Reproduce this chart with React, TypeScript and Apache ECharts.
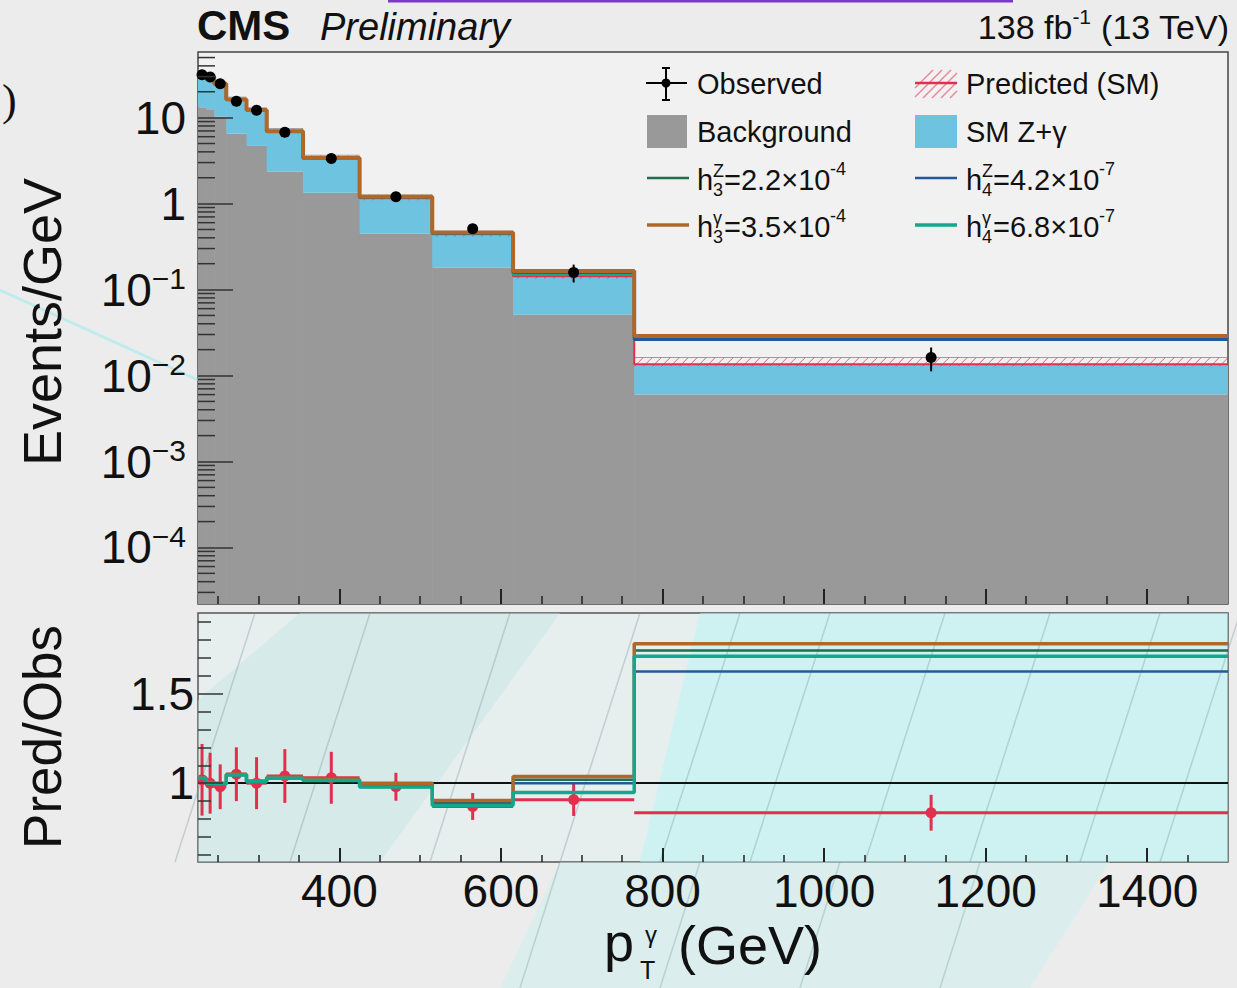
import React, { useEffect, useRef } from 'react';
import * as echarts from 'echarts';

// ---------------- data ----------------
const binEdges = [225, 235, 245, 260, 285, 310, 355, 425, 515, 615, 765, 1500];
const observed = [31.6, 29.7, 24.8, 15.5, 12.2, 6.75, 3.34, 1.2, 0.51, 0.158, 0.0162];
const observedErr = [1.0, 1.0, 0.9, 0.7, 0.6, 0.4, 0.2, 0.07, 0.04, 0.037, 0.005];
const background = [13.2, 12.5, 10.3, 6.5, 4.7, 2.36, 1.34, 0.448, 0.18, 0.051, 0.006];
const predictedSM = [32.2, 29.7, 24.3, 16.3, 12.2, 7.0, 3.44, 1.18, 0.444, 0.143, 0.0135];
const predictedHi = [34.0, 31.5, 26.0, 17.3, 13.0, 7.45, 3.65, 1.26, 0.475, 0.152, 0.0162];
const predictedLo = [30.2, 27.8, 22.8, 15.3, 11.4, 6.55, 3.22, 1.1, 0.415, 0.134, 0.0128];
const h3Z = [32.4, 29.7, 24.7, 16.2, 12.3, 6.9, 3.39, 1.19, 0.454, 0.161, 0.0282];
const h3G = [32.5, 29.8, 24.8, 16.3, 12.3, 6.95, 3.4, 1.2, 0.46, 0.164, 0.0288];
const h4Z = [32.3, 29.7, 24.7, 16.2, 12.3, 6.92, 3.38, 1.18, 0.451, 0.158, 0.0263];
const h4G = [32.4, 29.7, 24.7, 16.2, 12.3, 6.93, 3.38, 1.17, 0.447, 0.15, 0.0277];

const ratioSM = [1.019, 1.0, 0.98, 1.05, 1.0, 1.04, 1.03, 0.98, 0.87, 0.907, 0.835];
const ratioErr = [0.2, 0.17, 0.125, 0.15, 0.145, 0.15, 0.145, 0.078, 0.075, 0.09, 0.1];
const ratioH3Z = [1.028, 1.003, 0.998, 1.048, 1.01, 1.03, 1.017, 0.99, 0.89, 1.019, 1.74];
const ratioH3G = [1.03, 1.005, 1.0, 1.05, 1.012, 1.032, 1.02, 1.0, 0.904, 1.037, 1.778];
const ratioH4Z = [1.026, 1.0, 0.996, 1.045, 1.008, 1.027, 1.014, 0.985, 0.885, 1.0, 1.624];
const ratioH4G = [1.028, 1.0, 0.996, 1.046, 1.009, 1.028, 1.015, 0.978, 0.876, 0.948, 1.709];

const xMajorTicks = [400, 600, 800, 1000, 1200, 1400];
const xMinorTicks = [250, 300, 350, 450, 500, 550, 650, 700, 750, 850, 900, 950, 1050, 1100, 1150, 1250, 1300, 1350, 1450];
const ratioLabels = [1, 1.5];
const ratioMinorTicks = [0.6, 0.7, 0.8, 0.9, 1.1, 1.2, 1.3, 1.4, 1.6, 1.7, 1.8, 1.9];
const logMinorMantissas = [2, 3, 4, 5, 6, 7, 8, 9];
const logDecades = [-5, -4, -3, -2, -1, 0, 1];

// ---------------- styling constants ----------------
const X_MIN = 225;
const X_MAX = 1500;
const Y_MIN = 2.2e-5;
const Y_MAX = 58;
const R_MIN = 0.56;
const R_MAX = 1.95;
const FONT = '"Liberation Sans", Arial, Helvetica, sans-serif';

const C_BKG = '#999999';
const C_SM = '#6ec4e0';
const C_RED = '#e0304e';
const C_H3Z = '#1f6e4e';
const C_H3G = '#b0682a';
const C_H4Z = '#23599b';
const C_H4G = '#12a88c';

const logMinorTicks: number[] = [];
logDecades.forEach((d) => logMinorMantissas.forEach((m) => {
  const v = m * Math.pow(10, d);
  if (v > Y_MIN && v < Y_MAX) logMinorTicks.push(v);
}));

const binData = (lo: number[] | null, hi: number[]) =>
  hi.map((v, i) => [binEdges[i], binEdges[i + 1], lo ? lo[i] : Y_MIN, v]);

const stepData = (vals: number[]) => binEdges.map((e, i) => [e, vals[Math.min(i, vals.length - 1)]]);

const rectSeries = (lo: number[] | null, hi: number[], color: string, z: number) => ({
  type: 'custom',
  xAxisIndex: 0,
  yAxisIndex: 0,
  silent: true,
  clip: true,
  z,
  data: binData(lo, hi),
  encode: { x: [0, 1], y: [2, 3] },
  renderItem: (_p: any, api: any) => {
    const a = api.coord([api.value(0), api.value(3)]);
    const b = api.coord([api.value(1), api.value(2)]);
    return {
      type: 'rect',
      shape: { x: a[0], y: a[1], width: b[0] - a[0] + 0.6, height: b[1] - a[1] },
      style: { fill: color },
    };
  },
});

const clipSeg = (x1: number, y1: number, x2: number, y2: number, xa: number, xb: number) => {
  const k = (y2 - y1) / (x2 - x1);
  let sx = x1, sy = y1, ex = x2, ey = y2;
  if (sx < xa) { sy = sy + k * (xa - sx); sx = xa; }
  if (ex > xb) { ey = ey - k * (ex - xb); ex = xb; }
  if (ex <= sx) return null;
  return { x1: sx, y1: sy, x2: ex, y2: ey };
};

const hatchSeries = {
  type: 'custom',
  xAxisIndex: 0,
  yAxisIndex: 0,
  silent: true,
  clip: true,
  z: 4,
  data: binData(predictedLo, predictedHi),
  encode: { x: [0, 1], y: [2, 3] },
  renderItem: (_p: any, api: any) => {
    const a = api.coord([api.value(0), api.value(3)]);
    const b = api.coord([api.value(1), api.value(2)]);
    const h = b[1] - a[1];
    const children: any[] = [];
    for (let s = a[0] - h; s < b[0]; s += 9) {
      const seg = clipSeg(s, b[1], s + h, a[1], a[0], b[0]);
      if (seg) children.push({ type: 'line', shape: seg, style: { stroke: 'rgba(224,48,78,0.75)', lineWidth: 1 } });
    }
    children.push({ type: 'line', shape: { x1: a[0], y1: a[1], x2: b[0], y2: a[1] }, style: { stroke: 'rgba(120,120,120,0.7)', lineWidth: 1 } });
    return { type: 'group', children };
  },
};

const stepSeries = (name: string, vals: number[], color: string, width: number, xi: number, yi: number, z: number, extra: any = {}) => ({
  type: 'line',
  name,
  xAxisIndex: xi,
  yAxisIndex: yi,
  step: 'end',
  symbol: 'none',
  showSymbol: false,
  silent: true,
  data: stepData(vals),
  lineStyle: { color, width },
  z,
  ...extra,
});

const observedSeries = {
  type: 'custom',
  xAxisIndex: 0,
  yAxisIndex: 0,
  silent: true,
  z: 12,
  data: observed.map((v, i) => [(binEdges[i] + binEdges[i + 1]) / 2, v, observedErr[i]]),
  encode: { x: 0, y: 1 },
  renderItem: (_p: any, api: any) => {
    const c = api.coord([api.value(0), api.value(1)]);
    const hi = api.coord([api.value(0), api.value(1) + api.value(2)]);
    const lo = api.coord([api.value(0), api.value(1) - api.value(2)]);
    return {
      type: 'group',
      children: [
        { type: 'line', shape: { x1: c[0], y1: hi[1], x2: c[0], y2: lo[1] }, style: { stroke: '#000', lineWidth: 2 } },
        { type: 'circle', shape: { cx: c[0], cy: c[1], r: 5.5 }, style: { fill: '#000' } },
      ],
    };
  },
};

const logMinorTickSeries = {
  type: 'custom',
  xAxisIndex: 0,
  yAxisIndex: 0,
  silent: true,
  z: 13,
  data: logMinorTicks.map((v) => [X_MIN, v]),
  encode: { x: 0, y: 1 },
  renderItem: (_p: any, api: any) => {
    const c = api.coord([api.value(0), api.value(1)]);
    return { type: 'line', shape: { x1: c[0], y1: c[1], x2: c[0] + 17, y2: c[1] }, style: { stroke: '#333', lineWidth: 1.5 } };
  },
};

const ratioSMSeries = {
  type: 'custom',
  xAxisIndex: 2,
  yAxisIndex: 1,
  silent: true,
  clip: true,
  z: 5,
  data: ratioSM.map((v, i) => [binEdges[i], binEdges[i + 1], v, ratioErr[i]]),
  encode: { x: [0, 1], y: 2 },
  renderItem: (_p: any, api: any) => {
    const x0 = api.value(0), x1 = api.value(1), v = api.value(2), e = api.value(3);
    const l = api.coord([x0, v]);
    const r = api.coord([x1, v]);
    const c = api.coord([(x0 + x1) / 2, v]);
    const hi = api.coord([(x0 + x1) / 2, v + e]);
    const lo = api.coord([(x0 + x1) / 2, v - e]);
    return {
      type: 'group',
      children: [
        { type: 'line', shape: { x1: l[0], y1: l[1], x2: r[0], y2: r[1] }, style: { stroke: C_RED, lineWidth: 3 } },
        { type: 'line', shape: { x1: c[0], y1: hi[1], x2: c[0], y2: lo[1] }, style: { stroke: C_RED, lineWidth: 3 } },
        { type: 'circle', shape: { cx: c[0], cy: c[1], r: 5.5 }, style: { fill: C_RED } },
      ],
    };
  },
};

// ---------------- text helpers ----------------
const txt = (text: string, x: number, y: number, size: number, extra: any = {}, styleExtra: any = {}) => ({
  type: 'text',
  x,
  y,
  z: 20,
  silent: true,
  ...extra,
  style: {
    text,
    fontSize: size,
    fontFamily: FONT,
    fill: '#111',
    verticalAlign: 'middle',
    align: 'left',
    ...styleExtra,
  },
});

const couplingLabel = (x: number, y: number, sup: string, sub: string, rest: string, expo: string) => [
  txt('h', x, y, 29),
  txt(sup, x + 16, y - 9, 18),
  txt(sub, x + 16, y + 10, 18),
  txt(rest, x + 27, y, 29),
  txt(expo, x + 27 + 106, y - 11, 18),
];

const legendLine = (x: number, y: number, color: string, w: number) => ({
  type: 'line', z: 20, silent: true,
  shape: { x1: x, y1: y, x2: x + 42, y2: y },
  style: { stroke: color, lineWidth: w },
});

const legendHatch = () => {
  const els: any[] = [];
  for (let s = 905; s < 960; s += 9) {
    const seg = clipSeg(s, 98, s + 28, 70, 915, 957);
    if (seg) els.push({ type: 'line', z: 20, silent: true, shape: seg, style: { stroke: 'rgba(224,48,78,0.55)', lineWidth: 1.5 } });
  }
  return els;
};

const decoLines = [215, 330, 470, 600, 700, 790, 905, 1010, 1120, 1200].map((x) => ({
  type: 'line', z: 1, silent: true,
  shape: { x1: x - 40, y1: 862, x2: x + 40, y2: 613 },
  style: { stroke: 'rgba(120,150,150,0.35)', lineWidth: 1.5 },
}));

const lowerDecoLines = [560, 700, 840, 980].map((x) => ({
  type: 'line', z: 0, silent: true,
  shape: { x1: x - 40, y1: 988, x2: x, y2: 862 },
  style: { stroke: 'rgba(120,160,160,0.35)', lineWidth: 1.5 },
}));

const graphics: any[] = [
  // slide decorations
  { type: 'line', z: 1, silent: true, shape: { x1: 388, y1: 1, x2: 1013, y2: 1 }, style: { stroke: '#7a38c8', lineWidth: 3 } },
  { type: 'polygon', z: 1, silent: true, shape: { points: [[700, 613], [1228, 613], [1228, 862], [640, 862]] }, style: { fill: 'rgba(185,245,245,0.55)' } },
  { type: 'polygon', z: 1, silent: true, shape: { points: [[198, 700], [300, 613], [560, 613], [380, 862], [198, 862]] }, style: { fill: 'rgba(195,228,228,0.45)' } },
  { type: 'polygon', z: 0, silent: true, shape: { points: [[560, 862], [1110, 862], [1030, 988], [500, 988]] }, style: { fill: 'rgba(200,240,240,0.45)' } },
  ...lowerDecoLines,
  { type: 'line', z: 0, silent: true, shape: { x1: 0, y1: 290, x2: 198, y2: 380 }, style: { stroke: 'rgba(140,235,240,0.45)', lineWidth: 3 } },
  ...decoLines,
  txt(')', 2, 100, 44, {}, { fontFamily: '"Liberation Serif", serif' }),
  // header
  txt('CMS', 197, 25, 42, {}, { fontWeight: 'bold' }),
  txt('Preliminary', 320, 27, 38, {}, { fontStyle: 'italic' }),
  txt('138 fb{sup|-1} (13 TeV)', 1229, 27, 34, {}, {
    align: 'right',
    lineHeight: 42,
    rich: { sup: { fontSize: 21, lineHeight: 21, verticalAlign: 'top', fontFamily: FONT, fill: '#111' } },
  }),
  // axis titles
  txt('Events/GeV', 42, 322, 54, { rotation: Math.PI / 2 }, { align: 'center' }),
  txt('Pred/Obs', 42, 737, 53, { rotation: Math.PI / 2 }, { align: 'center' }),
  txt('p', 604, 942, 54),
  txt('γ', 645, 934, 24),
  txt('T', 640, 970, 25),
  txt('(GeV)', 678, 945, 54),
  // legend
  { type: 'line', z: 20, silent: true, shape: { x1: 646, y1: 83, x2: 687, y2: 83 }, style: { stroke: '#000', lineWidth: 2 } },
  { type: 'line', z: 20, silent: true, shape: { x1: 666, y1: 68, x2: 666, y2: 100 }, style: { stroke: '#000', lineWidth: 2 } },
  { type: 'line', z: 20, silent: true, shape: { x1: 662, y1: 68, x2: 670, y2: 68 }, style: { stroke: '#000', lineWidth: 2 } },
  { type: 'line', z: 20, silent: true, shape: { x1: 662, y1: 100, x2: 670, y2: 100 }, style: { stroke: '#000', lineWidth: 2 } },
  { type: 'circle', z: 20, silent: true, shape: { cx: 666, cy: 83, r: 4.5 }, style: { fill: '#000' } },
  txt('Observed', 697, 84, 29),
  ...legendHatch(),
  legendLine(915, 83, C_RED, 2.5),
  txt('Predicted (SM)', 966, 84, 29),
  { type: 'rect', z: 20, silent: true, shape: { x: 647, y: 115, width: 40, height: 33 }, style: { fill: C_BKG } },
  txt('Background', 697, 132, 29),
  { type: 'rect', z: 20, silent: true, shape: { x: 915, y: 115, width: 42, height: 33 }, style: { fill: C_SM } },
  txt('SM Z+γ', 966, 132, 29),
  legendLine(647, 178, C_H3Z, 2.5),
  ...couplingLabel(697, 180, 'Z', '3', '=2.2×10', '-4'),
  legendLine(915, 178, C_H4Z, 2.5),
  ...couplingLabel(966, 180, 'Z', '4', '=4.2×10', '-7'),
  legendLine(647, 225, C_H3G, 3.5),
  ...couplingLabel(697, 227, 'γ', '3', '=3.5×10', '-4'),
  legendLine(915, 225, C_H4G, 3.5),
  ...couplingLabel(966, 227, 'γ', '4', '=6.8×10', '-7'),
];

const logLabel = (v: number) => {
  const k = Math.round(Math.log10(v));
  if (k >= 0) return String(Math.round(Math.pow(10, k)));
  return '10{sup|−' + (-k) + '}';
};

export default function App() {
  const ref = useRef<HTMLDivElement>(null);
  useEffect(() => {
    if (!ref.current) return;
    const chart = echarts.init(ref.current, undefined, { renderer: 'svg' });
    const axisTextStyle = { color: '#111', fontFamily: FONT, fontSize: 46 };
    const option: any = {
      animation: false,
      backgroundColor: '#ececec',
      grid: [
        { left: 198, top: 52, width: 1030, height: 552, show: true, backgroundColor: '#f1f1f1', borderColor: '#444', borderWidth: 1.5, z: 0 },
        { left: 198, top: 613, width: 1030, height: 249, show: true, backgroundColor: '#e6eeee', borderColor: '#555', borderWidth: 1.5, z: 0 },
      ],
      xAxis: [
        {
          gridIndex: 0, type: 'value', min: X_MIN, max: X_MAX, position: 'bottom',
          axisLine: { show: false }, splitLine: { show: false }, axisLabel: { show: false },
          axisTick: { inside: true, length: 15, customValues: xMajorTicks, lineStyle: { color: '#222', width: 2 } },
          z: 14,
        },
        {
          gridIndex: 0, type: 'value', min: X_MIN, max: X_MAX, position: 'bottom',
          axisLine: { show: false }, splitLine: { show: false }, axisLabel: { show: false },
          axisTick: { inside: true, length: 8, customValues: xMinorTicks, lineStyle: { color: '#222', width: 1.5 } },
          z: 14,
        },
        {
          gridIndex: 1, type: 'value', min: X_MIN, max: X_MAX, position: 'bottom',
          axisLine: { show: false }, splitLine: { show: false },
          axisLabel: { ...axisTextStyle, margin: 6, customValues: xMajorTicks, formatter: (v: number) => String(v) },
          axisTick: { inside: true, length: 14, customValues: xMajorTicks, lineStyle: { color: '#222', width: 2 } },
          z: 14,
        },
        {
          gridIndex: 1, type: 'value', min: X_MIN, max: X_MAX, position: 'bottom',
          axisLine: { show: false }, splitLine: { show: false }, axisLabel: { show: false },
          axisTick: { inside: true, length: 7, customValues: xMinorTicks, lineStyle: { color: '#222', width: 1.5 } },
          z: 14,
        },
      ],
      yAxis: [
        {
          gridIndex: 0, type: 'log', logBase: 10, min: Y_MIN, max: Y_MAX, position: 'left',
          axisLine: { show: false }, splitLine: { show: false },
          axisTick: { inside: true, length: 35, lineStyle: { color: '#333', width: 1.5 } },
          axisLabel: {
            ...axisTextStyle, margin: 12, lineHeight: 52, showMinLabel: false, showMaxLabel: false,
            formatter: logLabel,
            rich: { sup: { fontSize: 30, lineHeight: 30, verticalAlign: 'top', fontFamily: FONT, color: '#111' } },
          },
          z: 14,
        },
        {
          gridIndex: 1, type: 'value', min: R_MIN, max: R_MAX, position: 'left',
          axisLine: { show: false }, splitLine: { show: false },
          axisTick: { inside: true, length: 13, customValues: ratioMinorTicks, lineStyle: { color: '#333', width: 1.5 } },
          axisLabel: { ...axisTextStyle, margin: 4, customValues: ratioLabels },
          z: 14,
        },
        {
          gridIndex: 1, type: 'value', min: R_MIN, max: R_MAX, position: 'left',
          axisLine: { show: false }, splitLine: { show: false }, axisLabel: { show: false },
          axisTick: { inside: true, length: 25, customValues: ratioLabels, lineStyle: { color: '#333', width: 1.5 } },
          z: 14,
        },
      ],
      series: [
        rectSeries(null, background, C_BKG, 2),
        rectSeries(background, predictedSM, C_SM, 3),
        hatchSeries,
        stepSeries('Predicted (SM)', predictedSM, C_RED, 2, 0, 0, 5),
        stepSeries('h3Z', h3Z, C_H3Z, 2.5, 0, 0, 6),
        stepSeries('h4G', h4G, C_H4G, 3, 0, 0, 7),
        stepSeries('h4Z', h4Z, C_H4Z, 3, 0, 0, 8),
        stepSeries('h3G', h3G, C_H3G, 4, 0, 0, 9),
        observedSeries,
        logMinorTickSeries,
        ratioSMSeries,
        stepSeries('ratio h3Z', ratioH3Z, C_H3Z, 2.5, 2, 1, 6, {
          markLine: {
            silent: true, symbol: ['none', 'none'], data: [{ yAxis: 1 }],
            lineStyle: { color: '#111', width: 2, type: 'solid' }, label: { show: false },
          },
        }),
        stepSeries('ratio h4Z', ratioH4Z, C_H4Z, 2.5, 2, 1, 7),
        stepSeries('ratio h3G', ratioH3G, C_H3G, 3.5, 2, 1, 8),
        stepSeries('ratio h4G', ratioH4G, C_H4G, 3.5, 2, 1, 9),
      ],
      graphic: graphics,
    };
    chart.setOption(option);
    return () => chart.dispose();
  }, []);
  return <div ref={ref} style={{ position: 'absolute', left: 0, top: 0, width: 1237, height: 988 }} />;
}
